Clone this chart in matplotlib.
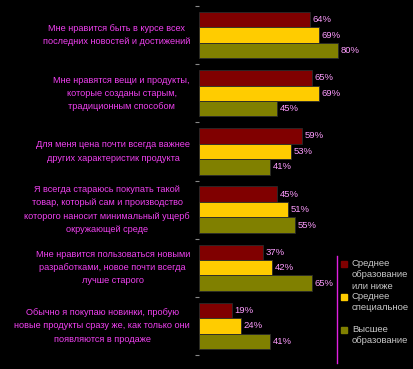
import matplotlib

matplotlib.use("Agg")
import matplotlib.pyplot as plt
import matplotlib.transforms as mtransforms
import numpy as np

plt.rcParams["font.family"] = ["Liberation Sans", "DejaVu Sans"]

# statements (top to bottom)
categories = [
    "Мне нравится быть в курсе всех\nпоследних новостей и достижений",
    "Мне нравятся вещи и продукты,\nкоторые созданы старым,\nтрадиционным способом",
    "Для меня цена почти всегда важнее\nдругих характеристик продукта",
    "Я всегда стараюсь покупать такой\nтовар, который сам и производство\nкоторого наносит минимальный ущерб\nокружающей среде",
    "Мне нравится пользоваться новыми\nразработками, новое почти всегда\nлучше старого",
    "Обычно я покупаю новинки, пробую\nновые продукты сразу же, как только они\nпоявляются в продаже",
]
series_names = [
    "Среднее\nобразование\nили ниже",
    "Среднее\nспециальное",
    "Высшее\nобразование",
]
secondary = [64, 65, 59, 45, 37, 19]
vocational = [69, 69, 53, 51, 42, 24]
higher = [80, 45, 41, 55, 65, 41]
colors = ["#800000", "#FFCC00", "#808000"]

W, H = 414, 369
fig = plt.figure(figsize=(W / 100, H / 100), dpi=100, facecolor="black")
ax = fig.add_axes([199 / W, 14 / H, 174 / W, 349 / H])
ax.set_facecolor("black")

y = np.arange(len(categories))
bh = 0.266
for i, (vals, col) in enumerate(zip([secondary, vocational, higher], colors)):
    pos = y + (i - 1) * bh
    ax.barh(pos, vals, height=bh, color=col, edgecolor="#2a2a2a", linewidth=0.6)
    for p, v in zip(pos, vals):
        ax.text(v + 1.5, p, f"{v}%", color="#FF9CFF", fontsize=6.8,
                va="center", ha="left")

ax.set_xlim(0, 100)
ax.set_ylim(len(categories) - 0.5, -0.5)
for s in ax.spines.values():
    s.set_visible(False)
ax.set_xticks([])
ax.set_yticks(np.arange(len(categories) + 1) - 0.5)
ax.set_yticklabels([])
ax.tick_params(axis="y", length=3, color="#888888", width=0.8)

# statement labels: block right-aligned beside the axis, lines centred
lab_tr = mtransforms.blended_transform_factory(fig.transFigure, ax.transData)
for yi, cat in zip(y, categories):
    ax.text(190 / W, yi, cat, transform=lab_tr, ha="right", va="center",
            multialignment="center", color="#F040F0", fontsize=6.6,
            linespacing=1.6)

# legend drawn by hand to match the boxed layout
fig.add_artist(plt.Line2D([337 / W, 337 / W], [1 - 256 / H, 1 - 363 / H],
                          transform=fig.transFigure, color="#E020E0", lw=1))
legend_y = [264, 297, 330]
for name, col, ly in zip(series_names, colors, legend_y):
    fig.add_artist(plt.Rectangle((341 / W, 1 - (ly + 3) / H), 6 / W, 6 / H,
                                 transform=fig.transFigure, color=col))
    fig.text(352 / W, 1 - (ly - 5) / H, name, color="#C8C8C8", fontsize=6.8,
             va="top", ha="left", linespacing=1.35)

fig.savefig("out.png", dpi=100, facecolor="black")
